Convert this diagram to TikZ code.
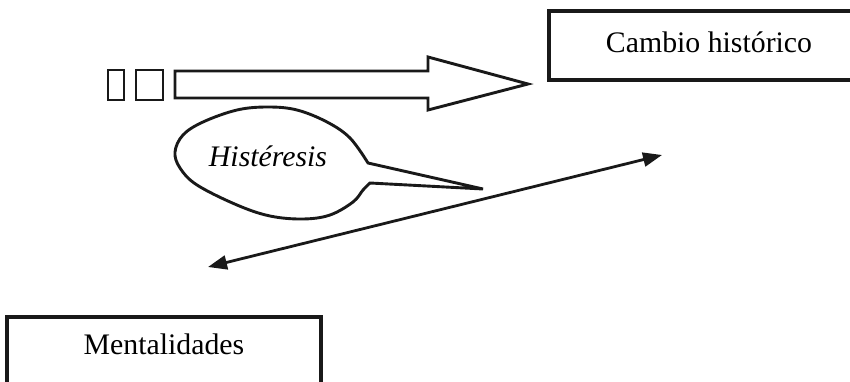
\documentclass[tikz,border=0pt]{standalone}
\usepackage{fontspec}
\setmainfont{Liberation Serif}
\usetikzlibrary{arrows.meta}
\tikzset{
  boxnode/.style={draw=black!90, line width=3.2pt, minimum width=320pt, minimum height=69pt, inner sep=0pt,
    font=\fontsize{29.8}{36}\selectfont},
  outline/.style={draw=black!90, line width=2.9pt, line join=miter},
  dblarrow/.style={draw=black!90, line width=2.8pt,
    {Triangle[length=19pt,width=14pt]}-{Triangle[length=19pt,width=14pt]}},
}
\begin{document}
\begin{tikzpicture}[x=1pt,y=-1pt]
\useasboundingbox (0,0) rectangle (850,382);
\clip (0,0) rectangle (850,382);
% boxes
\node[boxnode, text depth=7pt] (cambio) at (709,45.5) {Cambio histórico};
\node[boxnode, minimum width=314pt, text depth=15pt] (ment) at (164,351.5) {Mentalidades};
% small squares and block arrow
\draw[outline] (108,70) rectangle (124,100);
\draw[outline] (136,70) rectangle (163,100);
\coordinate (tip) at (528,84);
\draw[outline] (175,71) -- (428,71) -- (428,57) -- (tip) -- (428,110) -- (428,98) -- (175,98) -- cycle;
% speech bubble
\coordinate (btip) at (483,189);
\draw[outline] (btip) -- (368,163) -- plot[smooth, tension=0.6] coordinates {
  (368,163) (350,138) (327,122) (297,110) (268,107) (237,110) (203,122) (183,135) (175,152)
  (180,168) (197,185) (237,205) (270,216) (303,219) (330,215) (353,202) (363,190) (370,183)}
  -- cycle;
\node[font=\fontsize{29.8}{36}\selectfont\itshape, inner sep=0pt] (hist) at (268,156) {Histéresis};
% double arrow
\coordinate (dl) at (208,267);
\coordinate (dr) at (662,155);
\draw[dblarrow] (dl) -- (dr);
\end{tikzpicture}
\end{document}
